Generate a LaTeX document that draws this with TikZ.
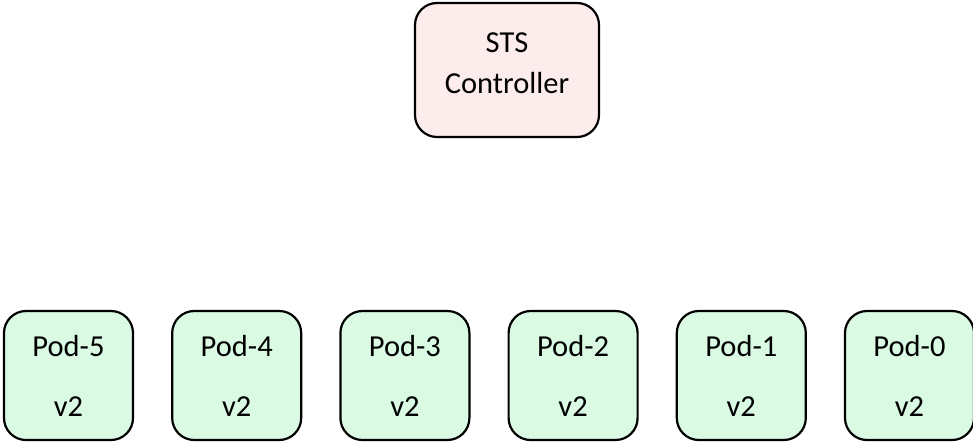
\documentclass[tikz,border=0pt]{standalone}
\usepackage{fontspec}
\setmainfont{Carlito}
\usepackage{xcolor}
\definecolor{ctrlpink}{RGB}{253,236,236}
\definecolor{podgreen}{RGB}{218,250,228}

\begin{document}
\begin{tikzpicture}[x=1pt, y=-1pt,
    box/.style={draw, line width=2.2pt, rounded corners=22pt, align=center},
    every node/.style={font=\fontsize{30.5}{41}\selectfont}]
    \useasboundingbox (0,0) rectangle (973,442);
    % StatefulSet controller
    \node[box, fill=ctrlpink, minimum width=184pt, minimum height=134pt,
        text depth=14pt] (ctrl) at (507,70) {STS\\Controller};
    % Pods, numbered right to left
    \foreach \i in {0,...,5} {
        \node[box, fill=podgreen, minimum width=129pt, minimum height=129pt,
            font=\fontsize{30.5}{60}\selectfont] (pod\i) at ({909.5-168.2*\i},375.5) {Pod-\i\\v2};
    }
\end{tikzpicture}
\end{document}
